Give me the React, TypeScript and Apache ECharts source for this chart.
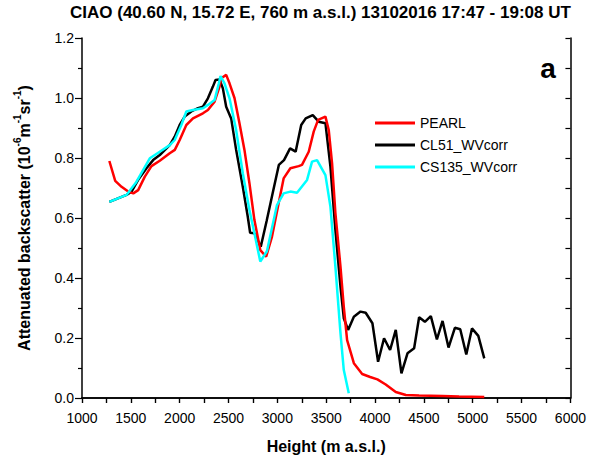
import React, { useEffect, useRef } from "react";
import * as echarts from "echarts";

const FONT = "Arial, 'Liberation Sans', sans-serif";

const titleText = "CIAO (40.60 N, 15.72 E, 760 m a.s.l.) 13102016 17:47 - 19:08 UT";
const xAxisName = "Height (m a.s.l.)";
const panelLabel = "a";
const seriesNames = ["PEARL", "CL51_WVcorr", "CS135_WVcorr"];

const pearlHeight = [1280, 1340, 1405, 1473, 1525, 1575, 1643, 1711, 1796, 1898, 1950, 2000, 2068, 2136, 2238, 2289, 2357, 2408, 2425, 2476, 2510, 2561, 2612, 2663, 2714, 2765, 2825, 2885, 2945, 3013, 3064, 3133, 3218, 3252, 3321, 3372, 3417, 3492, 3526, 3560, 3594, 3646, 3680, 3714, 3783, 3868, 3950, 4024, 4109, 4212, 4315, 4450, 4690, 4860, 5118];
const pearlValue = [0.79, 0.724, 0.704, 0.688, 0.682, 0.693, 0.738, 0.773, 0.791, 0.816, 0.827, 0.86, 0.91, 0.932, 0.949, 0.96, 0.988, 1.038, 1.066, 1.077, 1.049, 1.0, 0.916, 0.827, 0.716, 0.593, 0.493, 0.471, 0.538, 0.649, 0.732, 0.766, 0.773, 0.777, 0.821, 0.888, 0.927, 0.938, 0.893, 0.782, 0.616, 0.438, 0.304, 0.193, 0.116, 0.08, 0.07, 0.062, 0.045, 0.02, 0.01, 0.008, 0.007, 0.005, 0.003];

const cl51Height = [1280, 1456, 1507, 1575, 1660, 1728, 1796, 1898, 1949, 2000, 2051, 2119, 2187, 2238, 2289, 2340, 2367, 2408, 2442, 2476, 2527, 2578, 2646, 2697, 2721, 2765, 2830, 2890, 2950, 3015, 3068, 3130, 3187, 3244, 3290, 3362, 3423, 3492, 3543, 3594, 3646, 3680, 3724, 3783, 3851, 3904, 3973, 4031, 4092, 4154, 4212, 4270, 4332, 4400, 4451, 4510, 4571, 4633, 4691, 4752, 4817, 4872, 4934, 4992, 5057, 5118];
const cl51Value = [0.654, 0.677, 0.688, 0.727, 0.766, 0.793, 0.81, 0.843, 0.871, 0.91, 0.938, 0.955, 0.966, 0.971, 0.999, 1.038, 1.06, 1.062, 1.032, 0.971, 0.932, 0.827, 0.704, 0.604, 0.551, 0.549, 0.504, 0.59, 0.68, 0.777, 0.793, 0.832, 0.821, 0.91, 0.932, 0.943, 0.921, 0.916, 0.771, 0.56, 0.371, 0.266, 0.227, 0.271, 0.288, 0.284, 0.249, 0.121, 0.199, 0.16, 0.227, 0.082, 0.149, 0.166, 0.269, 0.254, 0.273, 0.195, 0.257, 0.168, 0.234, 0.229, 0.145, 0.232, 0.207, 0.132];

const cs135Height = [1280, 1456, 1558, 1694, 1796, 1898, 1949, 2017, 2068, 2136, 2238, 2289, 2357, 2401, 2418, 2459, 2510, 2578, 2646, 2714, 2765, 2825, 2893, 2996, 3064, 3133, 3201, 3304, 3355, 3406, 3492, 3543, 3594, 3646, 3680, 3731];
const cs135Value = [0.654, 0.677, 0.721, 0.799, 0.821, 0.843, 0.86, 0.91, 0.955, 0.96, 0.966, 0.977, 0.993, 1.049, 1.073, 1.049, 0.999, 0.893, 0.749, 0.627, 0.549, 0.455, 0.489, 0.643, 0.682, 0.688, 0.684, 0.727, 0.788, 0.793, 0.743, 0.638, 0.438, 0.216, 0.093, 0.016];

const zip = (xs: number[], ys: number[]) => xs.map((x, i) => [x, ys[i]]);

export default function App() {
  const ref = useRef<HTMLDivElement>(null);
  useEffect(() => {
    document.body.style.margin = "0";
    const chart = echarts.init(ref.current!, null, { renderer: "svg" });
    const axisLine = { show: true, lineStyle: { color: "#000", width: 1.5 } };
    chart.setOption({
      animation: false,
      backgroundColor: "#fff",
      textStyle: { fontFamily: FONT },
      title: {
        text: titleText,
        left: 70,
        top: 4,
        padding: 0,
        textStyle: { fontFamily: FONT, fontSize: 17, fontWeight: "bold", color: "#000" },
      },
      grid: { left: 82, right: 18, top: 38, bottom: 63 },
      legend: {
        orient: "vertical",
        left: 375,
        top: 116,
        itemWidth: 40,
        itemHeight: 3,
        itemGap: 8,
        padding: 0,
        icon: "rect",
        data: seriesNames,
        textStyle: { fontFamily: FONT, fontSize: 14, color: "#000", lineHeight: 14 },
      },
      xAxis: [
        {
          type: "value",
          position: "bottom",
          min: 1000,
          max: 6000,
          interval: 500,
          name: xAxisName,
          nameLocation: "middle",
          nameGap: 40,
          nameTextStyle: { fontFamily: FONT, fontSize: 16, fontWeight: "bold", color: "#000" },
          axisLine,
          axisTick: { show: true, length: 5, inside: false, lineStyle: { color: "#000", width: 1.2 } },
          minorTick: { show: true, splitNumber: 2, length: 5, lineStyle: { color: "#000", width: 1.2 } },
          axisLabel: {
            fontFamily: FONT,
            fontSize: 14,
            color: "#000",
            margin: 13,
            formatter: (v: number) => String(v),
          },
          splitLine: { show: false },
        },
        {
          type: "value",
          position: "top",
          min: 1000,
          max: 6000,
          interval: 250,
          axisLine,
          axisTick: { show: true, length: 5, inside: true, lineStyle: { color: "#000", width: 1.2 } },
          axisLabel: { show: false },
          splitLine: { show: false },
        },
      ],
      yAxis: [
        {
          type: "value",
          position: "left",
          min: 0,
          max: 1.2,
          interval: 0.2,
          name: "{b|Attenuated backscatter (10}{s|-6}{b|m}{s|-1}{b|sr}{s|-1}{b|)}",
          nameLocation: "middle",
          nameRotate: 90,
          nameGap: 50,
          nameTextStyle: {
            fontFamily: FONT,
            fontSize: 16,
            fontWeight: "bold",
            color: "#000",
            rich: {
              b: { fontFamily: FONT, fontSize: 16, fontWeight: "bold", color: "#000", lineHeight: 20, verticalAlign: "bottom" },
              s: { fontFamily: FONT, fontSize: 10, fontWeight: "bold", color: "#000", lineHeight: 20, verticalAlign: "top" },
            },
          },
          axisLine,
          axisTick: { show: true, length: 7, inside: false, lineStyle: { color: "#000", width: 1.2 } },
          minorTick: { show: true, splitNumber: 2, length: 4, lineStyle: { color: "#000", width: 1.2 } },
          axisLabel: {
            fontFamily: FONT,
            fontSize: 14,
            color: "#000",
            margin: 8,
            formatter: (v: number) => v.toFixed(1),
          },
          splitLine: { show: false },
        },
        {
          type: "value",
          position: "right",
          min: 0,
          max: 1.2,
          interval: 0.1,
          axisLine,
          axisTick: { show: true, length: 5, inside: true, lineStyle: { color: "#000", width: 1.2 } },
          axisLabel: { show: false },
          splitLine: { show: false },
        },
      ],
      graphic: [
        {
          type: "text",
          x: 548,
          y: 68,
          style: {
            text: panelLabel,
            fontFamily: FONT,
            fontSize: 28,
            fontWeight: "bold",
            fill: "#000",
            align: "center",
            verticalAlign: "middle",
          },
        },
      ],
      series: [
        {
          name: seriesNames[0],
          type: "line",
          data: zip(pearlHeight, pearlValue),
          symbol: "none",
          lineStyle: { color: "#ff0000", width: 2.5 },
          itemStyle: { color: "#ff0000" },
          z: 3,
        },
        {
          name: seriesNames[1],
          type: "line",
          data: zip(cl51Height, cl51Value),
          symbol: "none",
          lineStyle: { color: "#000000", width: 2.5 },
          itemStyle: { color: "#000000" },
          z: 2,
        },
        {
          name: seriesNames[2],
          type: "line",
          data: zip(cs135Height, cs135Value),
          symbol: "none",
          lineStyle: { color: "#00ffff", width: 2.5 },
          itemStyle: { color: "#00ffff" },
          z: 4,
        },
      ],
    });
    return () => chart.dispose();
  }, []);
  return <div ref={ref} style={{ width: 589, height: 461 }} />;
}
